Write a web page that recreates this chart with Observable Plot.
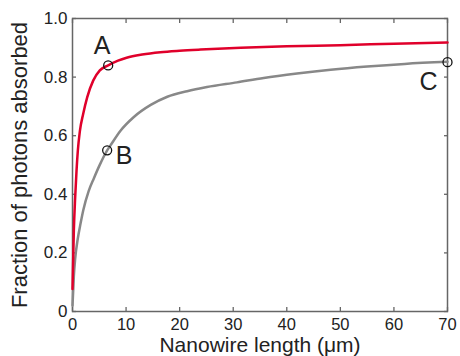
<!DOCTYPE html>
<html><head><meta charset="utf-8">
<script src="https://cdn.jsdelivr.net/npm/d3@7"></script>
<script src="https://cdn.jsdelivr.net/npm/@observablehq/plot@0.6"></script>
<style>body{margin:0;background:#fff}</style>
</head><body><div id="chart"></div>
<script>
const redX = [0, 0.25, 0.5, 0.75, 1.0, 1.37, 2.0, 2.74, 3.86, 5.1, 6.66, 8.5, 10.1, 13, 16.4, 20, 23.9, 31.4, 40, 50, 60, 70];
const redY = [0.077, 0.276, 0.39, 0.48, 0.55, 0.615, 0.675, 0.731, 0.788, 0.823, 0.840, 0.856, 0.866, 0.877, 0.885, 0.890, 0.894, 0.900, 0.905, 0.909, 0.914, 0.918];
const grayX = [0, 0.25, 0.5, 1.0, 1.5, 2.0, 3.0, 4.0, 5.0, 6.47, 7.09, 8.96, 11.4, 14.6, 17.7, 21.4, 25.1, 30.7, 35.7, 41.9, 48.2, 55, 62, 70];
const grayY = [0.02, 0.12, 0.18, 0.25, 0.30, 0.345, 0.41, 0.455, 0.497, 0.55, 0.567, 0.617, 0.663, 0.705, 0.733, 0.752, 0.766, 0.782, 0.797, 0.812, 0.825, 0.836, 0.845, 0.852];
const markX = [6.66, 6.47, 70];
const markY = [0.840, 0.55, 0.851];
const markLabels = ["A", "B", "C"];
const xTicks = [0, 10, 20, 30, 40, 50, 60, 70];
const yTicks = [0, 0.2, 0.4, 0.6, 0.8, 1.0];
const yTickLabels = ["0", "0.2", "0.4", "0.6", "0.8", "1.0"];
const xTitle = "Nanowire length (μm)";
const yTitle = "Fraction of photons absorbed";

const red = redX.map((x, i) => ({x, y: redY[i]}));
const gray = grayX.map((x, i) => ({x, y: grayY[i]}));
const marks = markX.map((x, i) => ({x, y: markY[i], label: markLabels[i]}));
const frameColor = "#666";
const offsets = {A: [-6, -19], B: [17, 6], C: [-19, 20]};

const chart = Plot.plot({
  width: 460, height: 356,
  marginLeft: 72, marginRight: 13, marginTop: 18, marginBottom: 45,
  style: {fontFamily: "'Liberation Sans', Arial, sans-serif", color: "#222", background: "#fff"},
  x: {domain: [0, 70]},
  y: {domain: [0, 1]},
  marks: [
    Plot.frame({stroke: frameColor, strokeWidth: 1.5}),
    Plot.axisX({anchor: "bottom", ticks: xTicks, tickSize: -4, tickPadding: 11, fontSize: 16.5, stroke: frameColor, strokeWidth: 1.3, label: null}),
    Plot.axisX({anchor: "top", ticks: xTicks, tickSize: -4, tickFormat: () => "", label: null, stroke: frameColor, strokeWidth: 1.3}),
    Plot.axisY({anchor: "left", ticks: yTicks, tickSize: -4, tickPadding: 9, fontSize: 17, stroke: frameColor, strokeWidth: 1.3,
      tickFormat: (d) => yTickLabels[yTicks.findIndex(t => Math.abs(t - d) < 1e-9)], label: null}),
    Plot.axisY({anchor: "right", ticks: yTicks, tickSize: -4, tickFormat: () => "", label: null, stroke: frameColor, strokeWidth: 1.3}),
    Plot.text([xTitle], {frameAnchor: "bottom", dy: 33.5, lineAnchor: "middle", fontSize: 21, fill: "#222"}),
    Plot.text([yTitle], {frameAnchor: "left", dx: -52.5, rotate: -90, lineAnchor: "middle", textAnchor: "middle", fontSize: 22, fill: "#222"}),
    Plot.line(gray, {x: "x", y: "y", stroke: "#888", strokeWidth: 2.5, curve: "monotone-x"}),
    Plot.line(red, {x: "x", y: "y", stroke: "#e0002b", strokeWidth: 2.5, curve: "monotone-x"}),
    Plot.dot(marks, {x: "x", y: "y", r: 4.5, stroke: "#111", strokeWidth: 1.3, fill: "none"}),
    ...markLabels.map(l => Plot.text(marks.filter(d => d.label === l), {x: "x", y: "y", text: "label", dx: offsets[l][0], dy: offsets[l][1], fontSize: 25, fill: "#222"}))
  ]
});
document.getElementById("chart").appendChild(chart);
</script>
</body></html>
